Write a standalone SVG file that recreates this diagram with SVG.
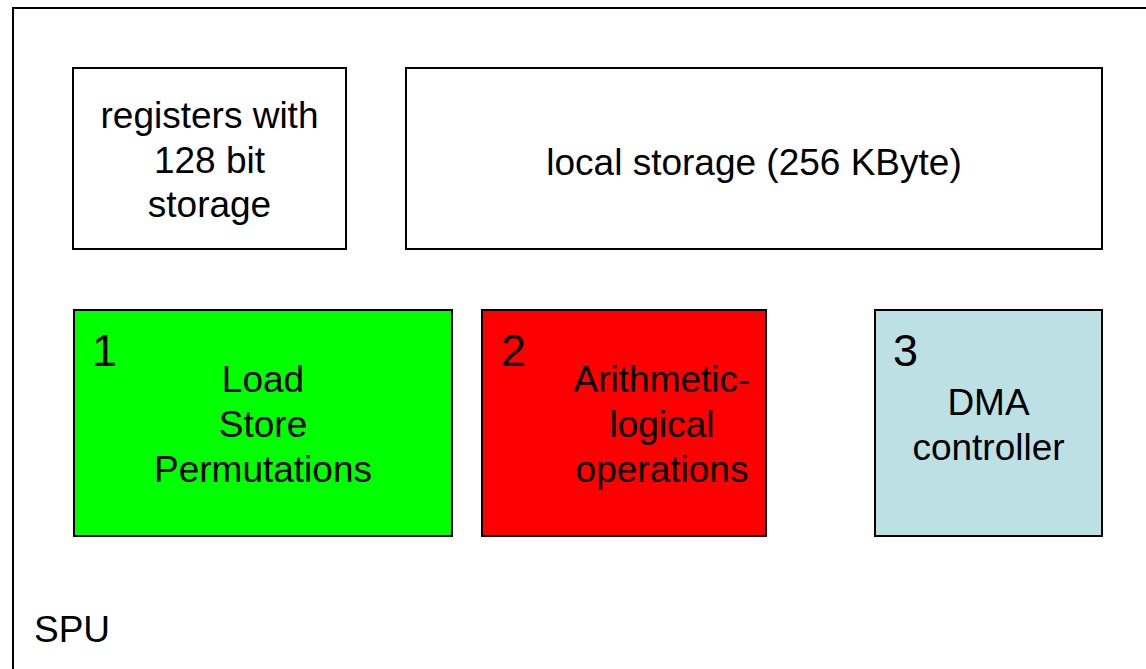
<svg xmlns="http://www.w3.org/2000/svg" width="1146" height="669" viewBox="0 0 1146 669">
<style>
text{font-family:"Liberation Sans",Arial,sans-serif;font-size:37px;fill:#000}
.c{text-anchor:middle}
.n{font-size:45px}
.box{stroke:#000;stroke-width:2}
</style>
<rect width="1146" height="669" fill="#fff"/>
<g id="spu">
<rect x="13" y="8" width="1150" height="680" fill="#fff" class="box"/>
<text x="34" y="642">SPU</text>
</g>
<g id="registers">
<rect x="73" y="68" width="273" height="181" fill="#fff" class="box"/>
<text class="c" x="209.5" y="128">registers with</text>
<text class="c" x="209.5" y="173">128 bit</text>
<text class="c" x="209.5" y="217">storage</text>
</g>
<g id="local-storage">
<rect x="406" y="68" width="696" height="181" fill="#fff" class="box"/>
<text class="c" x="754" y="175">local storage (256 KByte)</text>
</g>
<g id="unit1">
<rect x="74" y="310" width="378" height="226" fill="#00ff00" class="box"/>
<text class="n" x="92" y="366">1</text>
<text class="c" x="263" y="392">Load</text>
<text class="c" x="263" y="437">Store</text>
<text class="c" x="263" y="482">Permutations</text>
</g>
<g id="unit2">
<rect x="482" y="310" width="284" height="226" fill="#ff0000" class="box"/>
<text class="n" x="501" y="366">2</text>
<text class="c" x="662" y="392">Arithmetic-</text>
<text class="c" x="662" y="437">logical</text>
<text class="c" x="662" y="482">operations</text>
</g>
<g id="unit3">
<rect x="875" y="310" width="227" height="226" fill="#bce0e4" class="box"/>
<text class="n" x="893" y="366">3</text>
<text class="c" x="988.5" y="415">DMA</text>
<text class="c" x="988.5" y="460">controller</text>
</g>
<g id="connectors"></g>
</svg>
